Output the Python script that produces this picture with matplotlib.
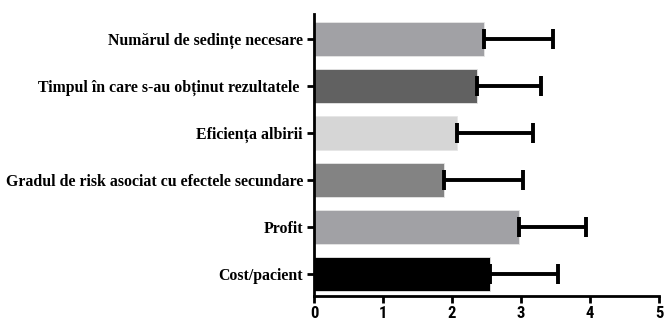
import matplotlib
matplotlib.use("Agg")
import matplotlib.pyplot as plt
from matplotlib import font_manager

categories = [
    "Cost/pacient",
    "Profit",
    "Gradul de risk asociat cu efectele secundare",
    "Eficiența albirii",
    "Timpul în care s-au obținut rezultatele ",
    "Numărul de sedințe necesare",
]
means = [2.55, 2.97, 1.88, 2.07, 2.36, 2.46]
errors = [0.98, 0.97, 1.15, 1.11, 0.93, 1.00]
colors = ["#000000", "#a1a1a5", "#838383", "#d6d6d6", "#616161", "#a1a1a5"]
xticks = [0, 1, 2, 3, 4, 5]

files = {f.fname.split("/")[-1] for f in font_manager.fontManager.ttflist}

label_kw = dict(fontfamily="Liberation Serif", fontweight="bold")

tick_font = "Liberation Sans"
for fname, fam in [("RobotoCondensed-Bold.ttf", "Roboto Condensed"),
                   ("BarlowCondensed-Bold.ttf", "Barlow Condensed"),
                   ("AsapCondensed-Bold.ttf", "Asap Condensed")]:
    if fname in files:
        tick_font = fam
        break

fig = plt.figure(figsize=(6.64, 3.25), dpi=100)
ax = fig.add_axes([314 / 664, 29 / 325, 345 / 664, 282 / 325])

ypos = list(range(len(categories)))
ax.barh(ypos, means, height=0.74, color=colors, edgecolor="#e6e6e6", linewidth=0.6, zorder=2)
ax.errorbar(means, ypos, xerr=[[0] * len(means), errors], fmt="none", ecolor="black",
            elinewidth=2.8, capsize=7, capthick=2.8, zorder=3)

ax.set_xlim(0, 5)
ax.set_ylim(-0.47, 5.53)
ax.set_yticks(ypos)
ax.set_yticklabels(categories, fontsize=11, **label_kw)
ax.set_xticks(xticks)
ax.set_xticklabels([str(t) for t in xticks], fontfamily=tick_font, fontweight="bold", fontsize=12)

for s in ["top", "right"]:
    ax.spines[s].set_visible(False)
for s in ["left", "bottom"]:
    ax.spines[s].set_linewidth(2)
ax.tick_params(axis="both", width=2, length=5)
ax.tick_params(axis="y", pad=3)
ax.tick_params(axis="x", pad=2)

# fit the widest category label to the space left of the axis
fig.canvas.draw()
renderer = fig.canvas.get_renderer()
widest = max(t.get_window_extent(renderer).width for t in ax.get_yticklabels())
size = 11 * 297.0 / widest
for t in ax.get_yticklabels():
    t.set_fontsize(size)

fig.savefig("out.png", dpi=100)
